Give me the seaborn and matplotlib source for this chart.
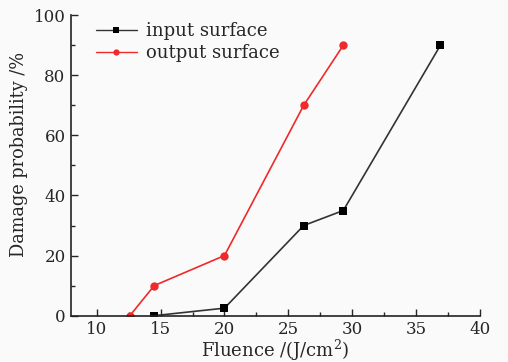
import matplotlib
matplotlib.use("Agg")
import matplotlib.pyplot as plt
from matplotlib.ticker import MultipleLocator
import seaborn as sns
import pandas as pd

# Laser damage probability versus fluence for both surfaces
input_fluence = [14.5, 20.0, 26.2, 29.3, 36.9]
input_prob = [0, 2.5, 30, 35, 90]
output_fluence = [12.6, 14.5, 20.0, 26.2, 29.3]
output_prob = [0, 10, 20, 70, 90]
series_names = ["input surface", "output surface"]

df = pd.concat([
    pd.DataFrame({"fluence": input_fluence, "prob": input_prob, "surface": series_names[0]}),
    pd.DataFrame({"fluence": output_fluence, "prob": output_prob, "surface": series_names[1]}),
], ignore_index=True)

sns.set_style("ticks", {"xtick.direction": "in", "ytick.direction": "in"})
plt.rcParams["font.family"] = ["DejaVu Serif"]
plt.rcParams["mathtext.fontset"] = "dejavuserif"
plt.rcParams["xtick.direction"] = "in"
plt.rcParams["ytick.direction"] = "in"

fig = plt.figure(figsize=(5.08, 3.62), dpi=100, facecolor="#fafafa")
ax = fig.add_axes([0.140, 0.128, 0.805, 0.830])
ax.set_facecolor("#fafafa")

colors = {series_names[0]: "#333333", series_names[1]: "#ee2a2a"}
marker_face = {series_names[0]: "black", series_names[1]: "#ee2a2a"}
marker_size = {series_names[0]: 5.2, series_names[1]: 6.0}
sns.lineplot(data=df, x="fluence", y="prob", hue="surface", style="surface",
             markers={series_names[0]: "s", series_names[1]: "o"}, dashes=False,
             palette=colors, linewidth=1.2, markeredgewidth=0,
             sort=False, legend=False, ax=ax)
for line, name in zip(ax.lines, series_names):
    line.set_markerfacecolor(marker_face[name])
    line.set_markersize(marker_size[name])
    line.set_label(name)

ax.set_xlim(8, 40)
ax.set_ylim(0, 100)
ax.xaxis.set_major_locator(MultipleLocator(5))
ax.xaxis.set_minor_locator(MultipleLocator(2.5))
ax.yaxis.set_major_locator(MultipleLocator(20))
ax.yaxis.set_minor_locator(MultipleLocator(10))
ax.tick_params(which="major", direction="in", length=5, width=1, labelsize=12, pad=4)
ax.tick_params(which="minor", direction="in", length=3, width=1)
for side in ("top", "right"):
    ax.spines[side].set_visible(False)
for side in ("left", "bottom"):
    ax.spines[side].set_linewidth(1.2)
    ax.spines[side].set_color("#222222")

ax.set_xlabel("Fluence /(J/cm$^2$)", fontsize=13, labelpad=0)
ax.set_ylabel("Damage probability /%", fontsize=12.8)
ax.yaxis.set_label_coords(-0.105, 0.535)

leg = ax.legend(loc="upper left", bbox_to_anchor=(0.02, 1.03), frameon=False,
                fontsize=13, handlelength=2.3, handletextpad=0.5,
                labelspacing=0.2, markerscale=0.75)
for h in leg.legend_handles:
    h.set_linewidth(1.0)

fig.savefig("out.png", dpi=100, facecolor=fig.get_facecolor())
